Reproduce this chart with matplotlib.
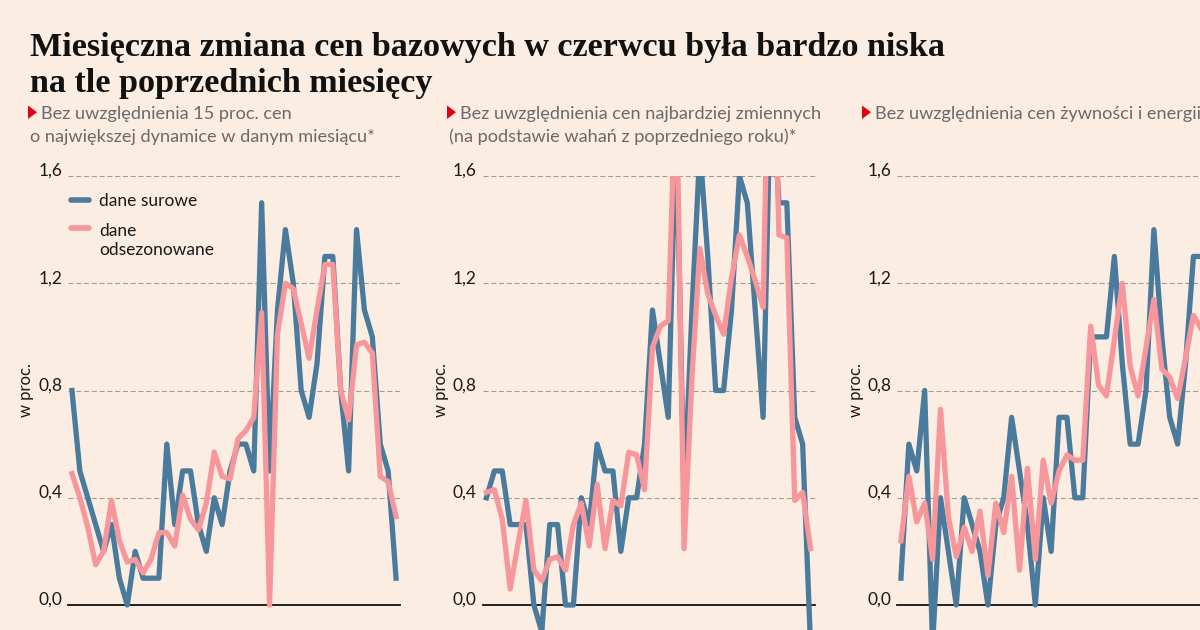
import numpy as np
import matplotlib
matplotlib.use('Agg')
import matplotlib.pyplot as plt
from matplotlib.patches import Polygon

# ---- data: monthly core-price change, % m/m (42 months) ---------------------------
panel1_raw = [0.8, 0.5, 0.4, 0.3, 0.2, 0.3, 0.1, 0.0, 0.2, 0.1, 0.1, 0.1, 0.6, 0.3,
              0.5, 0.5, 0.3, 0.2, 0.4, 0.3, 0.5, 0.6, 0.6, 0.5, 1.5, 0.5, 1.1, 1.4,
              1.2, 0.8, 0.7, 0.9, 1.3, 1.3, 0.8, 0.5, 1.4, 1.1, 1.0, 0.6, 0.5, 0.1]
panel1_sa = [0.49, 0.40, 0.29, 0.15, 0.20, 0.39, 0.24, 0.16, 0.17, 0.12, 0.17, 0.27,
             0.27, 0.22, 0.41, 0.32, 0.28, 0.38, 0.57, 0.48, 0.47, 0.62, 0.65, 0.70,
             1.09, 0.00, 1.01, 1.20, 1.18, 1.05, 0.92, 1.10, 1.27, 1.27, 0.80, 0.69,
             0.97, 0.98, 0.94, 0.48, 0.46, 0.33]

panel2_raw = [0.4, 0.5, 0.5, 0.3, 0.3, 0.3, 0.0, -0.1, 0.3, 0.3, 0.0, 0.0, 0.4, 0.3,
              0.6, 0.5, 0.5, 0.2, 0.4, 0.4, 0.6, 1.1, 0.9, 0.7, 1.8, 0.4, 1.1, 1.7,
              1.3, 0.8, 0.8, 1.1, 1.6, 1.5, 1.1, 0.7, 2.0, 1.5, 1.5, 0.7, 0.6, -0.15]
panel2_sa = [0.42, 0.43, 0.32, 0.06, 0.23, 0.39, 0.13, 0.09, 0.17, 0.18, 0.13, 0.30,
             0.38, 0.22, 0.45, 0.21, 0.39, 0.37, 0.57, 0.56, 0.43, 0.96, 1.04, 1.06,
             2.0, 0.21, 0.85, 1.33, 1.16, 1.08, 1.01, 1.22, 1.38, 1.30, 1.21, 1.11,
             2.6, 1.38, 1.37, 0.39, 0.42, 0.21]

# third panel runs off the right edge of the graphic: only the visible months
panel3_raw = [0.1, 0.6, 0.5, 0.8, -0.15, 0.4, 0.2, 0.0, 0.4, 0.3, 0.2, 0.0, 0.3, 0.4,
              0.7, 0.5, 0.3, 0.0, 0.4, 0.2, 0.7, 0.7, 0.4, 0.4, 1.0, 1.0, 1.0, 1.3,
              0.9, 0.6, 0.6, 0.8, 1.4, 1.0, 0.7, 0.6, 0.9, 1.3, 1.3]
panel3_sa = [0.24, 0.48, 0.31, 0.38, 0.17, 0.73, 0.33, 0.18, 0.29, 0.20, 0.35, 0.11,
             0.38, 0.27, 0.48, 0.13, 0.51, 0.17, 0.54, 0.38, 0.50, 0.56, 0.54, 0.54,
             1.04, 0.82, 0.78, 0.99, 1.20, 0.89, 0.78, 0.96, 1.14, 0.88, 0.85, 0.77,
             0.92, 1.08, 1.03]

N_MONTHS = 42
yticks = [0.0, 0.4, 0.8, 1.2, 1.6]
ytick_labels = ['0,0', '0,4', '0,8', '1,2', '1,6']

title_lines = ['Miesięczna zmiana cen bazowych w czerwcu była bardzo niska',
               'na tle poprzednich miesięcy']
subtitles = [('Bez uwzględnienia 15 proc. cen', 'o największej dynamice w danym miesiącu*'),
             ('Bez uwzględnienia cen najbardziej zmiennych', '(na podstawie wahań z poprzedniego roku)*'),
             ('Bez uwzględnienia cen żywności i energii', '')]
legend_labels = ['dane surowe', 'dane\nodsezonowane']

# ---- style -------------------------------------------------------------------------
BG = '#fbede2'
BLUE = '#4a7b9d'
PINK = '#f7969b'
GRID = '#a39a92'
SUB = '#6a6a6a'
INK = '#1a1a1a'
plt.rcParams['font.family'] = ['Lato', 'DejaVu Sans']

W, H = 1200, 630
fig = plt.figure(figsize=(W/100, H/100), dpi=100, facecolor=BG)
fy = lambda py: (H - py)/H      # pixel row (from top) -> figure fraction

YMIN, YMAX = -0.3, 1.6
y_top, y_zero = 176, 605                     # pixel rows of 1.6 and 0.0
y_bot = y_zero - YMIN*(y_zero - y_top)/YMAX
lefts = [68, 482.5, 897]
ax_w = 332

series = [(panel1_raw, panel1_sa), (panel2_raw, panel2_sa), (panel3_raw, panel3_sa)]
axes = []
for k, (raw, sa) in enumerate(series):
    a = fig.add_axes([lefts[k]/W, fy(y_bot), ax_w/W, (y_bot - y_top)/H])
    a.set_facecolor('none')
    a.set_xlim(-0.5, N_MONTHS - 0.5)
    a.set_ylim(YMIN, YMAX)
    for s in a.spines.values():
        s.set_visible(False)
    a.set_xticks([]); a.set_yticks([])
    for v, lab in zip(yticks, ytick_labels):
        if v == 0:
            a.axhline(v, color='#111111', lw=1.3, zorder=1, clip_on=False)
        else:
            a.axhline(v, color=GRID, lw=0.8, ls=(0, (4.5, 2.5)), zorder=1, clip_on=False)
        a.text(-0.018, v, lab, transform=a.get_yaxis_transform(), ha='right',
               va='baseline', fontsize=12.5, color=INK)
    a.text(-0.125, 0.8, 'w proc.', transform=a.get_yaxis_transform(), rotation=90,
           ha='center', va='center', fontsize=12, color=INK)
    x = np.arange(len(raw))
    a.plot(x, raw, color=BLUE, lw=3.8, solid_joinstyle='round', zorder=3)
    a.plot(x, sa, color=PINK, lw=3.8, solid_joinstyle='round', zorder=4)
    axes.append(a)

# legend keys in the first panel
for col, yy in [(BLUE, 200), (PINK, 228)]:
    fig.add_artist(plt.Line2D([71/W, 89/W], [fy(yy), fy(yy)], color=col, lw=4.0,
                              solid_capstyle='round'))
fig.text(99/W, fy(200), legend_labels[0], ha='left', va='center_baseline',
         fontsize=12.5, color=INK)
fig.text(99/W, fy(223), legend_labels[1], ha='left', va='top',
         fontsize=12.5, color=INK, linespacing=1.2)

# title + subtitles
fig.text(30/W, fy(56), title_lines[0], ha='left', va='baseline', fontsize=24.6,
         fontweight='bold', family='Liberation Serif', color='#111111')
fig.text(30/W, fy(92), title_lines[1], ha='left', va='baseline', fontsize=24.6,
         fontweight='bold', family='Liberation Serif', color='#111111')
sub_x = [28, 447, 862]
for k, (l1, l2) in enumerate(subtitles):
    x0 = sub_x[k]
    tri = [(x0/W, fy(105.5)), (x0/W, fy(119)), ((x0 + 9)/W, fy(112.2))]
    fig.add_artist(Polygon(tri, closed=True, facecolor='#e3000f', edgecolor='none',
                           transform=fig.transFigure))
    fig.text((x0 + 13)/W, fy(119), l1, ha='left', va='baseline',
             fontsize=13.1, color=SUB)
    if l2:
        fig.text((x0 + 2)/W, fy(142), l2, ha='left', va='baseline',
                 fontsize=13.1, color=SUB)

fig.savefig('out.png', dpi=100, facecolor=BG)
